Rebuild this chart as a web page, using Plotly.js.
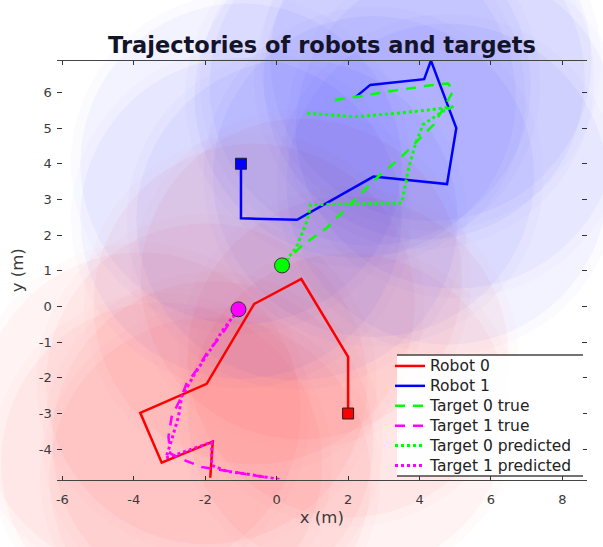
<!DOCTYPE html>
<html>
<head>
<meta charset="utf-8">
<script src="https://cdn.plot.ly/plotly-3.0.1.min.js"></script>
<style>html,body{margin:0;padding:0;background:#fff;}#chart{width:603px;height:547px;}</style>
</head>
<body>
<div id="chart"></div>
<script>
// ---- data ----
const robot0X = [2.0, 2.0, 0.69, -0.63, -1.96, -3.82, -3.22, -1.79, -1.86];
const robot0Y = [-3.0, -1.41, 0.77, 0.07, -2.17, -2.98, -4.38, -3.79, -4.8];
const robot1X = [-1.0, -1.0, 0.57, 2.71, 4.77, 5.03, 4.32, 4.13, 2.62, 2.2];
const robot1Y = [4.0, 2.47, 2.43, 3.64, 3.43, 5.0, 6.89, 6.37, 6.21, 5.86];
const target0TrueX = [0.15, 0.7, 1.4, 2.0, 2.8, 3.5, 4.4, 4.75, 4.95, 4.8, 4.3, 3.3, 2.3, 1.4];
const target0TrueY = [1.15, 1.7, 2.2, 2.8, 3.6, 4.2, 5.1, 5.7, 6.05, 6.25, 6.2, 6.05, 5.9, 5.75];
const target1TrueX = [-1.07, -1.58, -1.96, -2.24, -2.52, -2.7, -2.94, -3.03, -2.98, -2.61, -2.1, -1.5, -1.02, -0.09];
const target1TrueY = [-0.08, -0.85, -1.31, -1.78, -2.15, -2.6, -3.09, -3.65, -4.12, -4.3, -4.5, -4.6, -4.68, -4.82];
const target0PredX = [0.15, 0.55, 0.85, 0.95, 2.2, 3.5, 3.7, 3.9, 4.1, 4.7, 4.95, 4.2, 3.2, 2.2, 0.8];
const target0PredY = [1.15, 1.65, 2.4, 2.85, 2.88, 2.9, 3.9, 4.6, 5.1, 5.5, 5.6, 5.5, 5.4, 5.32, 5.42];
const target1PredX = [-1.07, -1.5, -1.86, -2.3, -2.66, -2.75, -2.9, -3.03, -3.1, -1.82, -1.82, -1.4, -0.8, 0.1];
const target1PredY = [-0.08, -0.65, -1.22, -1.9, -2.53, -3.09, -3.6, -4.07, -4.25, -3.8, -4.45, -4.62, -4.7, -4.85];
const seriesNames = ['Robot 0', 'Robot 1', 'Target 0 true', 'Target 1 true', 'Target 0 predicted', 'Target 1 predicted'];
const sensingRadius = 4.5;
const xTicks = [-6, -4, -2, 0, 2, 4, 6, 8];
const yTicks = [-4, -3, -2, -1, 0, 1, 2, 3, 4, 5, 6];

// ---- layout geometry ----
const FIG_W = 603, FIG_H = 547;
const plotL = 56.7, plotR = 587, plotT = 61, plotB = 479.5;
const xRange = [-6.16, 8.69], yRange = [-4.85, 6.88];
const sx = (plotR - plotL) / (xRange[1] - xRange[0]);
const sy = (plotB - plotT) / (yRange[1] - yRange[0]);
const fullX = [xRange[0] - plotL / sx, xRange[1] + (FIG_W - plotR) / sx];
const fullY = [yRange[0] - (FIG_H - plotB) / sy, yRange[1] + plotT / sy];

const FONT = 'DejaVu Sans, sans-serif';
const RED = '#ff0000', BLUE = '#0000ff', GREEN = '#00ff00', MAG = '#ff00ff';

// soft-edged sensing discs: a faint outer halo plus the main disc
function circles(xs, ys, rgb) {
  const out = [];
  xs.forEach((cx, i) => {
    [[1.06, 0.015], [1.0, 0.032]].forEach(([k, a]) => {
      const r = sensingRadius * k;
      out.push({
        type: 'circle', xref: 'x', yref: 'y', layer: 'below',
        x0: cx - r, x1: cx + r, y0: ys[i] - r, y1: ys[i] + r,
        fillcolor: 'rgba(' + rgb + ',' + a + ')', line: {width: 0}
      });
    });
  });
  return out;
}

const shapes = [].concat(
  circles(robot0X, robot0Y, '255,0,0'),
  circles(robot1X, robot1Y, '0,0,255')
);
// legend background and top/bottom rules
const legL = 397 / FIG_W, legR = 583 / FIG_W;
const legTop = 1 - 355 / FIG_H, legBot = 1 - 476 / FIG_H;
shapes.push({type: 'rect', xref: 'paper', yref: 'paper', layer: 'above', x0: legL, x1: legR, y0: legBot, y1: legTop, fillcolor: 'rgba(255,255,255,0.93)', line: {width: 0}});
shapes.push({type: 'line', xref: 'paper', yref: 'paper', layer: 'above', x0: legL, x1: legR, y0: legTop, y1: legTop, line: {color: '#444', width: 1.5}});
shapes.push({type: 'line', xref: 'paper', yref: 'paper', layer: 'above', x0: legL, x1: legR, y0: legBot, y1: legBot, line: {color: '#444', width: 1.5}});

const legendName = n => '<span style="font-size:15.5px">' + n + '</span>';

const common = {xaxis: 'x2', yaxis: 'y2', mode: 'lines', type: 'scatter'};
const traces = [
  Object.assign({}, common, {x: robot0X, y: robot0Y, name: legendName(seriesNames[0]), line: {color: RED, width: 2.5}}),
  Object.assign({}, common, {x: robot1X, y: robot1Y, name: legendName(seriesNames[1]), line: {color: BLUE, width: 2.5}}),
  Object.assign({}, common, {x: target0TrueX, y: target0TrueY, name: legendName(seriesNames[2]), line: {color: GREEN, width: 2.5, dash: '10px,8px'}}),
  Object.assign({}, common, {x: target1TrueX, y: target1TrueY, name: legendName(seriesNames[3]), line: {color: MAG, width: 2.5, dash: '10px,8px'}}),
  Object.assign({}, common, {x: target0PredX, y: target0PredY, name: legendName(seriesNames[4]), line: {color: GREEN, width: 3, dash: '3px,3px'}}),
  Object.assign({}, common, {x: target1PredX, y: target1PredY, name: legendName(seriesNames[5]), line: {color: MAG, width: 3, dash: '3px,3px'}}),
  // start markers
  {type: 'scatter', xaxis: 'x2', yaxis: 'y2', mode: 'markers', showlegend: false, x: [robot0X[0]], y: [robot0Y[0]], marker: {symbol: 'square', size: 11, color: RED, line: {color: '#222', width: 1}}, cliponaxis: false},
  {type: 'scatter', xaxis: 'x2', yaxis: 'y2', mode: 'markers', showlegend: false, x: [robot1X[0]], y: [robot1Y[0]], marker: {symbol: 'square', size: 11, color: BLUE, line: {color: '#222', width: 1}}, cliponaxis: false},
  {type: 'scatter', xaxis: 'x2', yaxis: 'y2', mode: 'markers', showlegend: false, x: [target0TrueX[0]], y: [target0TrueY[0]], marker: {symbol: 'circle', size: 15, color: GREEN, line: {color: '#333', width: 1}}, cliponaxis: false},
  {type: 'scatter', xaxis: 'x2', yaxis: 'y2', mode: 'markers', showlegend: false, x: [target1TrueX[0]], y: [target1TrueY[0]], marker: {symbol: 'circle', size: 15, color: MAG, line: {color: '#333', width: 1}}, cliponaxis: false},
  // invisible trace to anchor the full-figure axes
  {type: 'scatter', xaxis: 'x', yaxis: 'y', mode: 'markers', showlegend: false, hoverinfo: 'skip', x: [robot0X[0]], y: [robot0Y[0]], marker: {size: 1, opacity: 0}}
];

const layout = {
  width: FIG_W, height: FIG_H,
  margin: {l: 0, r: 0, t: 0, b: 0, pad: 0},
  paper_bgcolor: '#ffffff', plot_bgcolor: 'rgba(0,0,0,0)',
  font: {family: FONT, size: 13, color: '#3a3a3a'},
  showlegend: true,
  title: {text: '<b>Trajectories of robots and targets</b>', font: {family: FONT, size: 22.5, color: '#141428'},
          x: 322 / FIG_W, xanchor: 'center', xref: 'paper', y: 1 - 45 / FIG_H, yanchor: 'middle', yref: 'paper'},
  xaxis: {domain: [0, 1], range: fullX, visible: false, fixedrange: true},
  yaxis: {domain: [0, 1], range: fullY, visible: false, fixedrange: true},
  xaxis2: {domain: [plotL / FIG_W, plotR / FIG_W], range: xRange, anchor: 'y2', showgrid: false, zeroline: false,
           showline: true, linecolor: '#444', linewidth: 1.5, ticks: 'inside', ticklen: 4, tickcolor: '#333', tickwidth: 1,
           mirror: 'ticks', tickvals: xTicks, ticktext: xTicks.map(String), ticklabelstandoff: 7,
           tickfont: {family: FONT, size: 13, color: '#3a3a3a'},
           title: {text: 'x (m)', font: {family: FONT, size: 16.5, color: '#3a3a3a'}, standoff: 6}},
  yaxis2: {domain: [1 - plotB / FIG_H, 1 - plotT / FIG_H], range: yRange, anchor: 'x2', showgrid: false, zeroline: false,
           showline: false, ticks: 'inside', ticklen: 5, tickcolor: '#333', tickwidth: 1, mirror: 'ticks',
           tickvals: yTicks, ticktext: yTicks.map(String), ticklabelstandoff: 4,
           tickfont: {family: FONT, size: 13, color: '#3a3a3a'},
           title: {text: 'y (m)', font: {family: FONT, size: 16.5, color: '#3a3a3a'}, standoff: 10}},
  legend: {x: 390 / FIG_W, xanchor: 'left', y: 1 - 351 / FIG_H, yanchor: 'top', bgcolor: 'rgba(0,0,0,0)', borderwidth: 0,
           font: {family: FONT, size: 13, color: '#222'}, tracegroupgap: 0},
  shapes: shapes
};

Plotly.newPlot('chart', traces, layout, {staticPlot: true, displayModeBar: false});
</script>
</body>
</html>
